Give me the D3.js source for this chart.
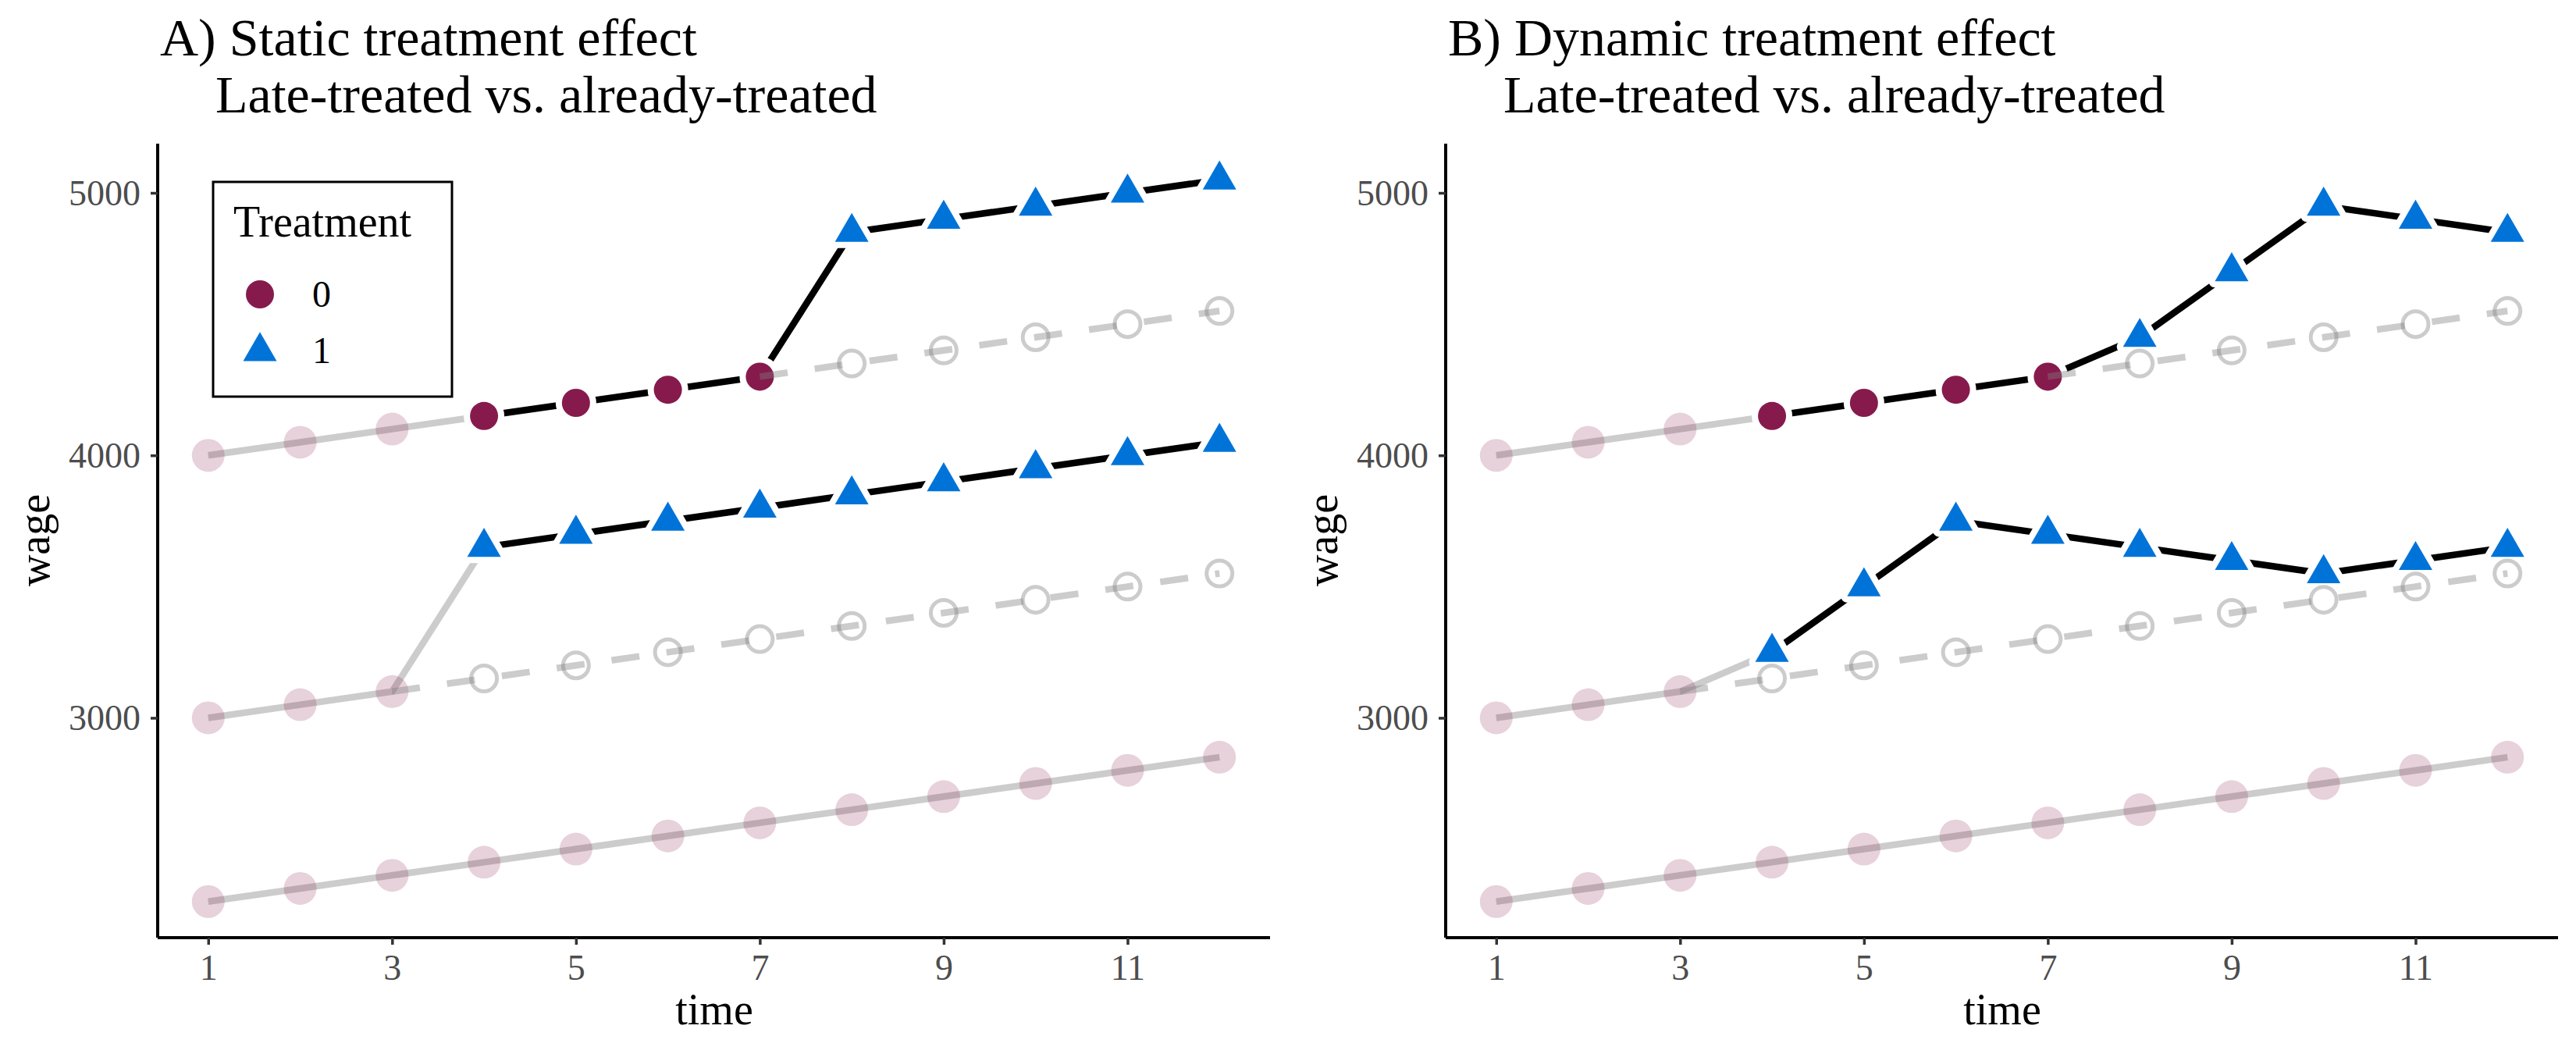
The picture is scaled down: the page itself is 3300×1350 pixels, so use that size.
<!DOCTYPE html>
<html>
<head>
<meta charset="utf-8">
<script src="https://cdn.jsdelivr.net/npm/d3@7"></script>
<style>
  html, body { margin: 0; padding: 0; background: #fff; }
  svg { display: block; }
  text { font-family: "Liberation Serif", "Times New Roman", serif; }
</style>
</head>
<body>
<svg id="chart" width="3300" height="1350"></svg>
<script>
// ---------------- data ----------------
const time = [1, 2, 3, 4, 5, 6, 7, 8, 9, 10, 11, 12];
const xTicks = [1, 3, 5, 7, 9, 11];
const yTicks = [3000, 4000, 5000];

// never-treated group (same in both panels)
const wageNever = [2300, 2350, 2400, 2450, 2500, 2550, 2600, 2650, 2700, 2750, 2800, 2850];

// Panel A: static treatment effect
const wageLateA  = [4000, 4050, 4100, 4150, 4200, 4250, 4300, 4850, 4900, 4950, 5000, 5050];
const wageEarlyA = [3000, 3050, 3100, 3650, 3700, 3750, 3800, 3850, 3900, 3950, 4000, 4050];

// Panel B: dynamic treatment effect
const wageLateB  = [4000, 4050, 4100, 4150, 4200, 4250, 4300, 4450, 4700, 4950, 4900, 4850];
const wageEarlyB = [3000, 3050, 3100, 3250, 3500, 3750, 3700, 3650, 3600, 3550, 3600, 3650];

// counterfactual (untreated) paths
const cfLate  = [null, null, null, null, null, null, 4300, 4350, 4400, 4450, 4500, 4550];
const cfEarly = [null, null, 3100, 3150, 3200, 3250, 3300, 3350, 3400, 3450, 3500, 3550];

// treatment status
const treatLate  = [0, 0, 0, 0, 0, 0, 0, 1, 1, 1, 1, 1];
const treatEarly = [0, 0, 0, 1, 1, 1, 1, 1, 1, 1, 1, 1];
const windowStart = 4; // comparison window starts here

const titlesA = ["A) Static treatment effect", "Late-treated vs. already-treated"];
const titlesB = ["B) Dynamic treatment effect", "Late-treated vs. already-treated"];
const legendTitle = "Treatment";
const legendLabels = ["0", "1"];

// ---------------- style ----------------
const COL0 = "#861a4d";
const COL1 = "#0073d9";
const GREY = "#7f7f7f";
const GREY_A = 0.4;
const LW = 8.5;

const svg = d3.select("#chart");

const circleSym = d3.symbol().type(d3.symbolCircle).size(Math.PI * 18 * 18);
const triSym = d3.symbol().type(d3.symbolTriangle).size(800);
const paleSym = d3.symbol().type(d3.symbolCircle).size(Math.PI * 21 * 21);
const hollowSym = d3.symbol().type(d3.symbolCircle).size(Math.PI * 16.5 * 16.5);

function panel(offsetX, late, early, titles) {
  const g = svg.append("g").attr("transform", `translate(${offsetX},0)`);
  const x = d3.scaleLinear().domain([0.45, 12.55]).range([202, 1627]);
  const y = d3.scaleLinear().domain([2162.5, 5187.5]).range([1201, 184]);

  const toPts = (w) => time.map((t, i) => ({ t, w: w[i], i }));
  const line = d3.line().defined(d => d.w != null).x(d => x(d.t)).y(d => y(d.w));

  // ---- titles
  g.append("text").attr("x", 205).attr("y", 71).attr("font-size", 68).attr("fill", "#000").text(titles[0]);
  g.append("text").attr("x", 276).attr("y", 144).attr("font-size", 68).attr("fill", "#000").text(titles[1]);

  const lateP = toPts(late), earlyP = toPts(early), neverP = toPts(wageNever);

  // ---- grey solid lines (pre-window and never treated)
  const greySolid = [
    neverP,
    lateP.filter(d => d.t <= windowStart),
    earlyP.filter(d => d.t <= windowStart)
  ];
  g.append("g").selectAll("path").data(greySolid).join("path")
    .attr("d", line).attr("fill", "none")
    .attr("stroke", GREY).attr("stroke-opacity", GREY_A)
    .attr("stroke-width", LW).attr("stroke-linejoin", "round");

  // ---- black lines in the comparison window
  const blackLines = [
    lateP.filter(d => d.t >= windowStart),
    earlyP.filter(d => d.t >= windowStart)
  ];
  g.append("g").selectAll("path").data(blackLines).join("path")
    .attr("d", line).attr("fill", "none")
    .attr("stroke", "#000").attr("stroke-width", LW).attr("stroke-linejoin", "round");

  // ---- pale points (outside window)
  const pale = neverP.concat(lateP.filter(d => d.t < windowStart), earlyP.filter(d => d.t < windowStart));
  g.append("g").selectAll("path").data(pale).join("path")
    .attr("transform", d => `translate(${x(d.t)},${y(d.w)})`)
    .attr("d", paleSym()).attr("fill", COL0).attr("fill-opacity", 0.2);

  // ---- highlighted points with white halo
  const hi = lateP.filter(d => d.t >= windowStart).map(d => ({ ...d, tr: treatLate[d.i] }))
    .concat(earlyP.filter(d => d.t >= windowStart).map(d => ({ ...d, tr: treatEarly[d.i] })));
  const hg = g.append("g");
  hg.selectAll("path.halo").data(hi).join("path").attr("class", "halo")
    .attr("transform", d => `translate(${x(d.t)},${y(d.w)})`)
    .attr("d", d => d.tr ? triSym() : circleSym())
    .attr("fill", "#fff").attr("stroke", "#fff").attr("stroke-width", 16).attr("stroke-linejoin", "round");
  hg.selectAll("path.mk").data(hi).join("path").attr("class", "mk")
    .attr("transform", d => `translate(${x(d.t)},${y(d.w)})`)
    .attr("d", d => d.tr ? triSym() : circleSym())
    .attr("fill", d => d.tr ? COL1 : COL0);

  // ---- counterfactual dashed lines
  const cfs = [toPts(cfLate).filter(d => d.w != null), toPts(cfEarly).filter(d => d.w != null)];
  g.append("g").selectAll("path").data(cfs).join("path")
    .attr("d", line).attr("fill", "none")
    .attr("stroke", GREY).attr("stroke-opacity", GREY_A)
    .attr("stroke-width", LW).attr("stroke-dasharray", "36,35");

  // ---- hollow counterfactual circles
  const hol = cfs[0].slice(1).concat(cfs[1].slice(1));
  g.append("g").selectAll("path").data(hol).join("path")
    .attr("transform", d => `translate(${x(d.t)},${y(d.w)})`)
    .attr("d", hollowSym()).attr("fill", "none")
    .attr("stroke", GREY).attr("stroke-opacity", GREY_A).attr("stroke-width", 5);

  // ---- axes
  const xAx = g.append("g").attr("transform", "translate(0,1201)")
    .call(d3.axisBottom(x).tickValues(xTicks).tickSize(9).tickSizeOuter(0).tickFormat(d3.format("d")));
  const yAx = g.append("g").attr("transform", "translate(202,0)")
    .call(d3.axisLeft(y).tickValues(yTicks).tickSize(9).tickSizeOuter(0).tickFormat(d3.format("d")));
  [xAx, yAx].forEach(a => {
    a.select(".domain").attr("stroke", "#000").attr("stroke-width", 4);
    a.selectAll(".tick line").attr("stroke", "#333").attr("stroke-width", 3.5);
    a.selectAll(".tick text").attr("fill", "#4d4d4d").attr("font-size", 46)
      .attr("font-family", "Liberation Serif");
  });
  xAx.select(".domain").attr("d", `M${x.range()[0]},0H${x.range()[1]}`);
  yAx.select(".domain").attr("d", `M0,${y.range()[0]}V${y.range()[1]}`);
  xAx.selectAll(".tick text").attr("y", 54).attr("dy", 0);
  yAx.selectAll(".tick text").attr("x", -22).attr("dy", "0.33em");

  // ---- axis titles
  g.append("text").attr("x", 915).attr("y", 1312).attr("text-anchor", "middle")
    .attr("font-size", 56).text("time");
  g.append("text").attr("transform", "translate(63,692) rotate(-90)").attr("text-anchor", "middle")
    .attr("font-size", 56).text("wage");
}

panel(0, wageLateA, wageEarlyA, titlesA);
panel(1650, wageLateB, wageEarlyB, titlesB);

// ---------------- legend (panel A) ----------------
const lg = svg.append("g");
lg.append("rect").attr("x", 273).attr("y", 233).attr("width", 306).attr("height", 275)
  .attr("fill", "#fff").attr("stroke", "#000").attr("stroke-width", 3);
lg.append("text").attr("x", 299).attr("y", 303).attr("font-size", 56).text(legendTitle);
lg.append("path").attr("transform", "translate(333,377)").attr("d", circleSym()).attr("fill", COL0);
lg.append("path").attr("transform", "translate(333,450)").attr("d", triSym()).attr("fill", COL1);
lg.append("text").attr("x", 400).attr("y", 393).attr("font-size", 48).text(legendLabels[0]);
lg.append("text").attr("x", 400).attr("y", 465).attr("font-size", 48).text(legendLabels[1]);
</script>
</body>
</html>
